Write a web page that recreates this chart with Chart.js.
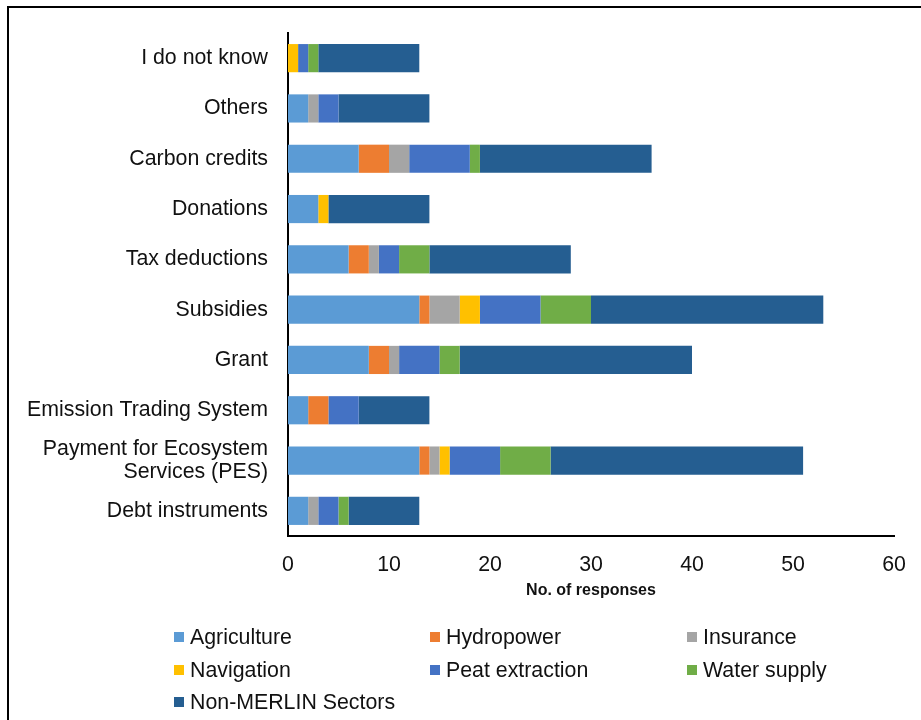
<!DOCTYPE html>
<html>
<head>
<meta charset="utf-8">
<script src="https://cdn.jsdelivr.net/npm/chart.js@4/dist/chart.umd.min.js"></script>
<style>
    html, body { margin: 0; padding: 0; background: #fff; overflow: hidden; }
    #wrap { position: relative; width: 921px; height: 720px; }
    #frame { position: absolute; left: 7px; top: 6px; width: 1000px; height: 1000px;
             border-top: 2px solid #000; border-left: 2px solid #000; pointer-events: none; }
    #chart { position: absolute; left: 0; top: 0; }
    #legend { position: absolute; left: 0; top: 0; font-family: "Liberation Sans", Arial, sans-serif;
              font-size: 21.33px; color: #111; }
    .item { position: absolute; white-space: nowrap; line-height: 24px; }
    .box { position: absolute; width: 10px; height: 10px; left: 0; top: 7px; }
    .txt { position: absolute; left: 16px; top: 0; }
</style>
</head>
<body>
<div id="wrap">
    <canvas id="chart" width="921" height="720"></canvas>
    <div id="frame"></div>
    <div id="legend"></div>
</div>
<script>
// Financing instruments, top to bottom
const instruments = [
    'I do not know',
    'Others',
    'Carbon credits',
    'Donations',
    'Tax deductions',
    'Subsidies',
    'Grant',
    'Emission Trading System',
    ['Payment for Ecosystem', 'Services (PES)'],
    'Debt instruments'
];

// Responses per sector
const agriculture    = [0, 2, 7, 3, 6, 13, 8, 2, 13, 2];
const hydropower     = [0, 0, 3, 0, 2, 1, 2, 2, 1, 0];
const insurance      = [0, 1, 2, 0, 1, 3, 1, 0, 1, 1];
const navigation     = [1, 0, 0, 1, 0, 2, 0, 0, 1, 0];
const peatExtraction = [1, 2, 6, 0, 2, 6, 4, 3, 5, 2];
const waterSupply    = [1, 0, 1, 0, 3, 5, 2, 0, 5, 1];
const nonMerlin      = [10, 9, 17, 10, 14, 23, 23, 7, 25, 7];

const xTicks = [0, 10, 20, 30, 40, 50, 60];

const FONT = '"Liberation Sans", Arial, sans-serif';

function series(label, data, color) {
    return {
        label: label,
        data: data,
        backgroundColor: color,
        borderWidth: 0,
        barPercentage: 0.56,
        categoryPercentage: 1
    };
}

const ctx = document.getElementById('chart').getContext('2d');
const chart = new Chart(ctx, {
    type: 'bar',
    data: {
        labels: instruments,
        datasets: [
            series('Agriculture', agriculture, '#5B9BD5'),
            series('Hydropower', hydropower, '#ED7D31'),
            series('Insurance', insurance, '#A5A5A5'),
            series('Navigation', navigation, '#FFC000'),
            series('Peat extraction', peatExtraction, '#4472C4'),
            series('Water supply', waterSupply, '#70AD47'),
            series('Non-MERLIN Sectors', nonMerlin, '#255E91')
        ]
    },
    options: {
        indexAxis: 'y',
        responsive: false,
        animation: false,
        layout: { padding: { left: 0, right: 27, top: 33, bottom: 120 } },
        plugins: {
            legend: { display: false },
            tooltip: { enabled: false }
        },
        scales: {
            x: {
                stacked: true,
                min: 0,
                max: 60,
                afterBuildTicks: function (scale) {
                    scale.ticks = xTicks.map(v => ({ value: v }));
                },
                afterFit: function (scale) { scale.height = 64; },
                grid: { display: false },
                border: { display: true, color: '#000', width: 2 },
                ticks: {
                    color: '#111',
                    padding: 8,
                    maxRotation: 0,
                    font: { family: FONT, size: 21.33 }
                },
                title: {
                    display: true,
                    text: 'No. of responses',
                    color: '#111',
                    padding: { top: 0, bottom: 0 },
                    font: { family: FONT, size: 16, weight: 'bold' }
                }
            },
            y: {
                stacked: true,
                afterFit: function (scale) { scale.width = 288; },
                grid: { display: false },
                border: { display: true, color: '#000', width: 2 },
                ticks: {
                    color: '#111',
                    padding: 12,
                    autoSkip: false,
                    font: { family: FONT, size: 21.33, lineHeight: 1.05 }
                }
            }
        }
    }
});

// Legend laid out in three columns below the axis
const legendEl = document.getElementById('legend');
const colX = [174, 430, 687];
const rowY = [625, 658, 690];
chart.data.datasets.forEach(function (ds, i) {
    const item = document.createElement('div');
    item.className = 'item';
    item.style.left = colX[i % 3] + 'px';
    item.style.top = rowY[Math.floor(i / 3)] + 'px';
    const box = document.createElement('span');
    box.className = 'box';
    box.style.background = ds.backgroundColor;
    const txt = document.createElement('span');
    txt.className = 'txt';
    txt.textContent = ds.label;
    item.appendChild(box);
    item.appendChild(txt);
    legendEl.appendChild(item);
});
</script>
</body>
</html>
